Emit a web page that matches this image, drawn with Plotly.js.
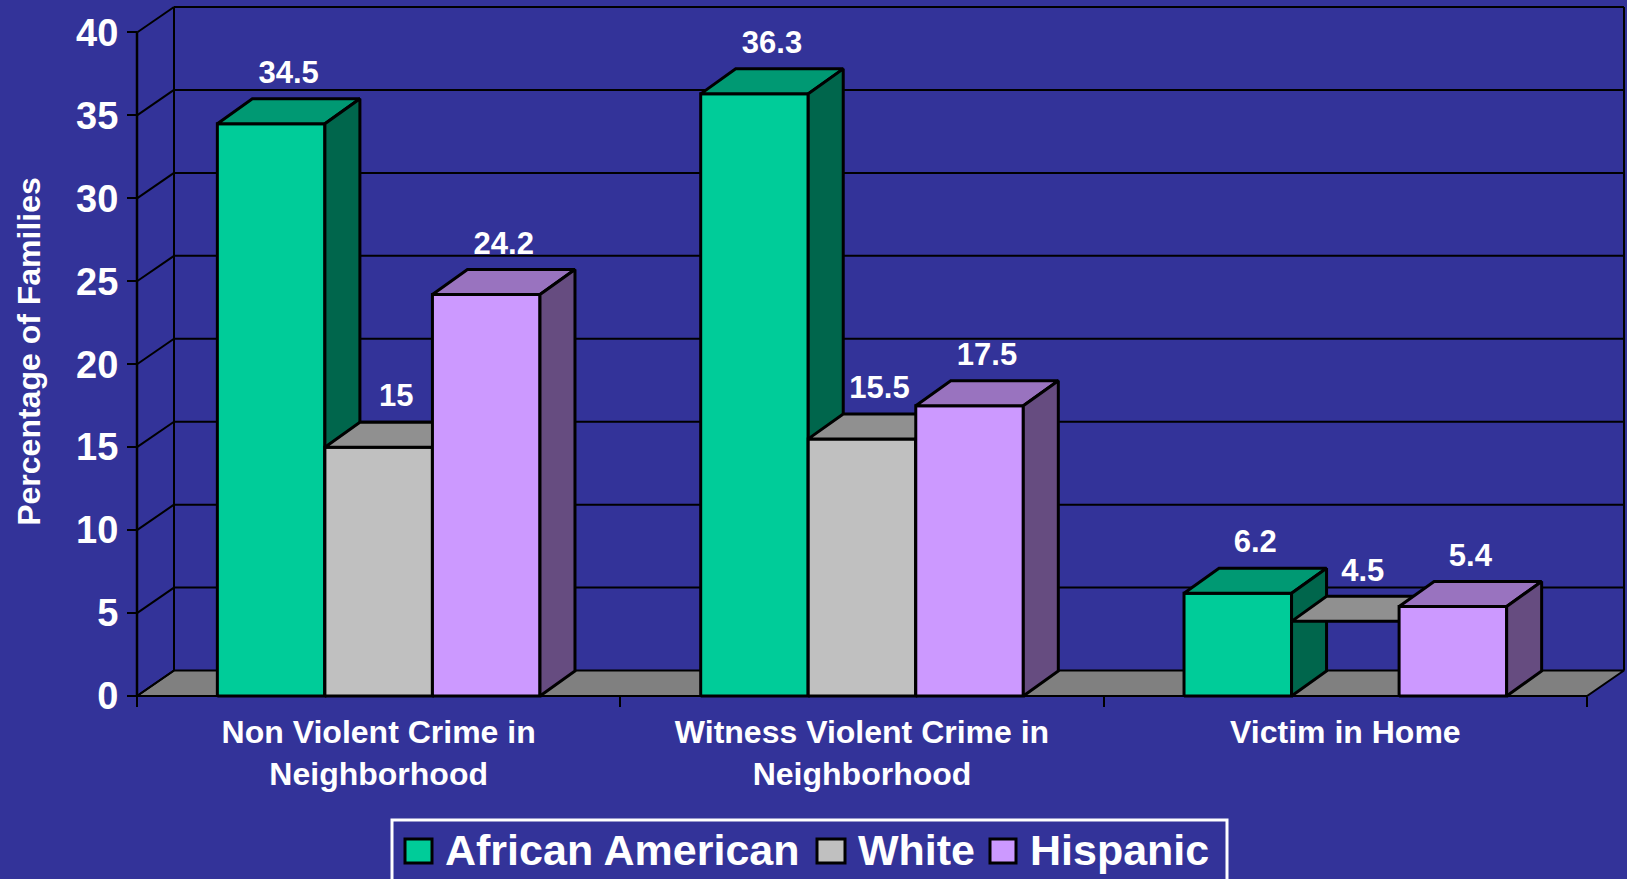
<!DOCTYPE html>
<html><head><meta charset="utf-8">
<script src="https://cdn.plot.ly/plotly-3.0.1.min.js"></script>
<style>html,body{margin:0;padding:0;background:#333399;overflow:hidden}#chart{width:1627px;height:879px}</style>
</head><body><div id="chart"></div>
<script>
// ---------------- data ----------------
const categories = ["Non Violent Crime in<br>Neighborhood", "Witness Violent Crime in<br>Neighborhood", "Victim in Home"];
const seriesNames = ["African American", "White", "Hispanic"];
const africanAmerican = [34.5, 36.3, 6.2];
const white = [15, 15.5, 4.5];
const hispanic = [24.2, 17.5, 5.4];
const yTicks = [0, 5, 10, 15, 20, 25, 30, 35, 40];
const yTitle = "Percentage of Families";

// ---------------- style / geometry ----------------
const BG = '#333399';
const FONT = 'Liberation Sans, Arial, Helvetica, sans-serif';
const faceColors = [
  {front:'#00CC99', top:'#009973', side:'#00664C'},
  {front:'#C0C0C0', top:'#909090', side:'#606060'},
  {front:'#CC99FF', top:'#9973BF', side:'#664C80'}
];
const seriesValues = [africanAmerican, white, hispanic];
const W = 1627, H = 879;
const frontLeftPx = 137, frontBottomPx = 696;
const pxPerX = 1450 / categories.length;   // px per category unit
const yMax = 40;
const pxPerY = (frontBottomPx - 32) / yMax;
const wallDX = 37 / pxPerX, wallDY = 25.5 / pxPerY;   // depth of floor / walls
const barDX = 35 / pxPerX, barDY = 25 / pxPerY;       // depth of bars
const barW = 0.2225;                                  // bar width (category units)
const labelGap = 8 / pxPerY;                          // extra gap above bar top for value labels
const pad = 3;                                        // px padding so edge lines are not clipped
const nCat = categories.length;
const xr = [-pad / pxPerX, nCat + wallDX + pad / pxPerX];
const yr = [-pad / pxPerY, yMax + wallDY + pad / pxPerY];
const plotW = (xr[1] - xr[0]) * pxPerX, plotH = (yr[1] - yr[0]) * pxPerY;
const ML = frontLeftPx - pad, MB = H - frontBottomPx - pad;
const MT = H - MB - plotH, MR = W - ML - plotW;

const traces = [];
function poly(xs, ys, fill, lw) {
  traces.push({type:'scatter', mode:'lines', x:[...xs, xs[0]], y:[...ys, ys[0]],
    fill:'toself', fillcolor:fill, line:{color:'#000', width:lw},
    hoverinfo:'skip', showlegend:false});
}

// floor
poly([0, nCat, nCat + wallDX, wallDX], [0, 0, wallDY, wallDY], '#808080', 2);

// walls / gridlines
const gx = [], gy = [];
yTicks.forEach(t => {
  gx.push(0, wallDX, null); gy.push(t, t + wallDY, null);           // side-wall diagonal
  if (t > 0) { gx.push(wallDX, nCat + wallDX, null); gy.push(t + wallDY, t + wallDY, null); }
});
gx.push(wallDX, wallDX, null, nCat + wallDX, nCat + wallDX, null, 0, nCat);
gy.push(wallDY, yMax + wallDY, null, wallDY, yMax + wallDY, null, 0, 0);
traces.push({type:'scatter', mode:'lines', x:gx, y:gy, line:{color:'#000', width:2},
  hoverinfo:'skip', showlegend:false, connectgaps:false});
// front y-axis line
traces.push({type:'scatter', mode:'lines', x:[0, 0], y:[0, yMax], line:{color:'#000', width:2.5},
  hoverinfo:'skip', showlegend:false});

// bars (painter's order, left to right)
const labX = [], labY = [], labT = [];
for (let c = 0; c < nCat; c++) {
  for (let s = 0; s < seriesValues.length; s++) {
    const v = seriesValues[s][c];
    const x0 = c + 0.5 - 1.5 * barW + s * barW, x1 = x0 + barW;
    const col = faceColors[s];
    // the reference rendering shows the short White bar of the last group without its front face
    const hollow = (c === nCat - 1 && s === 1);
    if (!hollow) poly([x0, x1, x1, x0], [0, 0, v, v], col.front, 3);
    poly([x0, x1, x1 + barDX, x0 + barDX], [v, v, v + barDY, v + barDY], col.top, 3);
    if (!hollow) poly([x1, x1 + barDX, x1 + barDX, x1], [0, barDY, v + barDY, v], col.side, 3);
    labX.push((x0 + x1) / 2 + barDX / 2);
    labY.push(v + barDY + labelGap);
    labT.push(String(v));
  }
}
traces.push({type:'scatter', mode:'text', x:labX, y:labY, text:labT, xaxis:'x2', yaxis:'y',
  textposition:'top center', cliponaxis:false, hoverinfo:'skip', showlegend:false,
  textfont:{family:FONT, size:31, color:'#fff', weight:'bold'}});

// ---------------- custom legend (px -> paper) ----------------
const px2x = px => (px - ML) / plotW;
const py2y = py => (H - MB - py) / plotH;
const legendItems = [
  {sw:[405, 432], tx:443},
  {sw:[817, 845], tx:856},
  {sw:[990, 1016], tx:1028}
];
const shapes = [{type:'rect', xref:'paper', yref:'paper', x0:px2x(392), x1:px2x(1227), y0:py2y(895), y1:py2y(820),
  line:{color:'#fff', width:3}, fillcolor:BG, layer:'above'}];
const annotations = [];
legendItems.forEach((it, i) => {
  shapes.push({type:'rect', xref:'paper', yref:'paper', x0:px2x(it.sw[0]), x1:px2x(it.sw[1]),
    y0:py2y(863), y1:py2y(839), line:{color:'#000', width:3}, fillcolor:faceColors[i].front, layer:'above'});
  annotations.push({xref:'paper', yref:'paper', x:px2x(it.tx), y:py2y(850), xanchor:'left', yanchor:'middle',
    text:seriesNames[i], showarrow:false, font:{family:FONT, size:43, color:'#fff', weight:'bold'}});
});

const layout = {
  width:W, height:H, paper_bgcolor:BG, plot_bgcolor:BG,
  margin:{l:ML, r:MR, t:MT, b:MB, pad:0},
  showlegend:false, hovermode:false,
  xaxis:{range:xr, showgrid:false, zeroline:false, showline:false,
    tickmode:'array', tickvals:[0, 1, 2, 3], ticktext:['', '', '', ''],
    ticks:'outside', ticklen:10, tickwidth:2, tickcolor:'#000',
    anchor:'free', position:pad / plotH, fixedrange:true},
  xaxis2:{range:xr, overlaying:'x', side:'bottom', showgrid:false, zeroline:false, showline:false,
    tickmode:'array', tickvals:[0.5, 1.5, 2.5], ticktext:categories, ticks:'',
    ticklabelstandoff:14, anchor:'free', position:pad / plotH, fixedrange:true,
    tickfont:{family:FONT, size:32, color:'#fff', weight:'bold'}},
  yaxis:{range:yr, showgrid:false, zeroline:false, showline:false,
    tickmode:'array', tickvals:yTicks, ticks:'outside', ticklen:10, tickwidth:2, tickcolor:'#000',
    ticklabelstandoff:1, anchor:'free', position:pad / plotW, fixedrange:true,
    tickfont:{family:FONT, size:38, color:'#fff', weight:'bold'},
    title:{text:yTitle, standoff:24, font:{family:FONT, size:32, color:'#fff', weight:'bold'}}},
  shapes:shapes, annotations:annotations,
  font:{family:FONT, color:'#fff'}
};
Plotly.newPlot('chart', traces, layout, {displayModeBar:false, staticPlot:true});
</script></body></html>
